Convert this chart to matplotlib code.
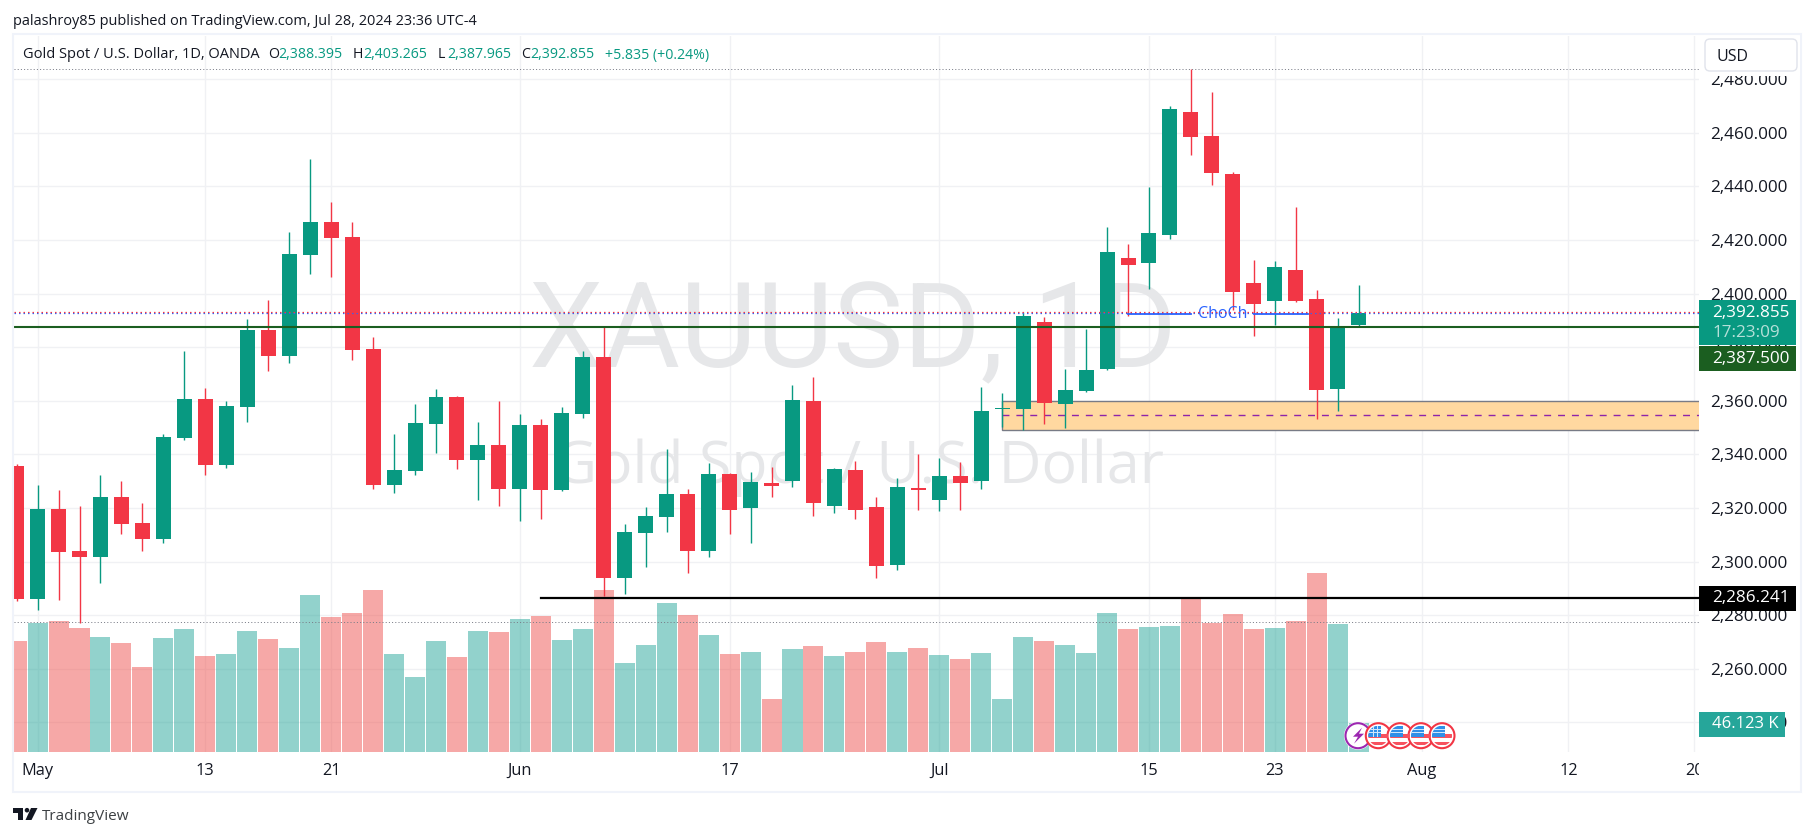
import matplotlib
matplotlib.use('Agg')
import matplotlib.pyplot as plt
from matplotlib.patches import Rectangle, Circle, Polygon, FancyBboxPatch
from matplotlib.transforms import Affine2D, Bbox, IdentityTransform, TransformedBbox

W, H = 1814, 836

# daily bars, Apr 30 -> Jul 29
opens = [2335.7, 2286.0, 2319.6, 2303.9, 2301.7, 2324.1, 2314.4, 2308.4, 2346.1, 2360.7,
         2336.0, 2357.7, 2386.4, 2376.7, 2414.4, 2426.7, 2421.1, 2379.3, 2328.6, 2333.8,
         2351.3, 2361.4, 2337.9, 2343.5, 2327.1, 2351.0, 2326.7, 2355.1, 2376.3, 2293.9,
         2310.6, 2316.6, 2325.2, 2303.9, 2332.7, 2320.0, 2329.3, 2330.1, 2359.9, 2320.7,
         2334.2, 2320.4, 2298.7, 2327.4, 2323.0, 2331.9, 2330.1, 2356.9, 2356.9, 2389.4,
         2358.8, 2363.6, 2371.9, 2413.3, 2411.4, 2421.9, 2467.8, 2458.8, 2444.6, 2404.0,
         2397.2, 2408.8, 2398.0, 2364.4, 2388.395]
highs = [2336.4, 2328.6, 2326.7, 2320.7, 2332.3, 2330.1, 2321.8, 2347.6, 2378.6, 2364.8,
         2359.9, 2390.5, 2397.6, 2423.0, 2450.2, 2434.2, 2426.7, 2383.8, 2347.6, 2358.8,
         2364.4, 2361.8, 2352.1, 2359.9, 2355.1, 2353.2, 2357.7, 2378.6, 2387.9, 2314.0,
         2320.4, 2342.0, 2327.1, 2336.8, 2333.0, 2333.4, 2335.3, 2365.9, 2368.9, 2334.9,
         2337.5, 2324.1, 2331.2, 2340.1, 2338.6, 2337.2, 2365.1, 2362.9, 2393.1, 2391.3,
         2371.9, 2386.8, 2424.9, 2418.5, 2439.8, 2470.0, 2483.8, 2475.3, 2445.4, 2412.5,
         2412.2, 2432.3, 2401.4, 2390.9, 2403.265]
lows = [2285.3, 2281.9, 2285.6, 2277.1, 2292.0, 2310.3, 2303.9, 2306.9, 2345.4, 2332.3,
        2334.9, 2352.1, 2371.1, 2374.1, 2407.3, 2406.2, 2375.2, 2327.1, 2325.6, 2332.3,
        2340.5, 2334.5, 2323.0, 2320.7, 2315.1, 2315.9, 2326.3, 2353.6, 2287.1, 2287.9,
        2298.0, 2311.0, 2295.7, 2301.7, 2310.3, 2306.9, 2324.1, 2327.8, 2317.0, 2318.1,
        2315.9, 2293.9, 2296.8, 2319.2, 2318.9, 2319.2, 2327.1, 2350.2, 2349.1, 2351.3,
        2349.8, 2363.3, 2371.5, 2391.6, 2401.7, 2420.4, 2451.7, 2440.5, 2393.9, 2384.2,
        2388.3, 2396.9, 2353.2, 2356.2, 2387.965]
closes = [2286.0, 2319.6, 2303.6, 2301.7, 2324.1, 2314.0, 2308.4, 2346.5, 2360.7, 2336.0,
          2358.1, 2386.4, 2376.7, 2414.8, 2426.7, 2420.8, 2379.0, 2328.6, 2334.2, 2351.7,
          2361.4, 2337.9, 2343.5, 2327.1, 2351.0, 2326.7, 2355.4, 2376.3, 2293.9, 2311.0,
          2317.0, 2325.2, 2303.9, 2332.7, 2319.2, 2329.7, 2328.2, 2360.3, 2321.8, 2334.5,
          2319.2, 2298.3, 2327.8, 2326.7, 2331.9, 2329.3, 2356.2, 2357.3, 2391.6, 2359.2,
          2364.0, 2371.5, 2415.5, 2410.7, 2422.6, 2468.9, 2458.5, 2445.0, 2400.6, 2396.1,
          2409.9, 2397.2, 2364.0, 2387.2, 2392.855]
# volume in thousands
volumes = [176.5, 205, 208, 197, 183, 173, 135, 181, 196, 153,
           156, 192, 180, 165, 250, 215, 221, 258, 156, 119,
           176.5, 151, 192, 191, 211, 216, 178, 196, 258, 141.5,
           170, 237, 218, 186, 156, 159, 84, 164, 168.5, 153,
           159, 175, 159, 165, 154, 148, 157, 84, 183, 176.5,
           170, 157, 221, 196, 199, 200, 245, 205, 219, 196,
           197, 208, 285, 204, 46.123]

tick_idx = [1, 9, 15, 24, 34, 44, 54, 60, 67, 74, 80]
tick_names = ['May', '13', '21', 'Jun', '17', 'Jul', '15', '23', 'Aug', '12', '20']
price_ticks = [2240, 2260, 2280, 2300, 2320, 2340, 2360, 2380, 2400, 2420, 2440, 2460, 2480]

level_green = 2387.5
level_black = 2286.241
last_close = 2392.855
session_high = 2483.7
session_low = 2277.4
choch_level = 2392.4
zone_top, zone_mid, zone_bottom = 2359.8, 2354.6, 2349.0

GREEN = '#089981'
RED = '#F23645'
INK = '#131722'
plt.rcParams['font.family'] = ['Open Sans', 'DejaVu Sans']

fig = plt.figure(figsize=(W / 100, H / 100), dpi=100, facecolor='white')
# top-left pixel coordinates for the chart furniture
px = Affine2D().scale(1 / W, -1 / H).translate(0, 1) + fig.transFigure

left, right, top, bottom = 14, 1699, 36, 752
ax = fig.add_axes([left / W, 1 - bottom / H, (right - left) / W, (bottom - top) / H])
ax.set_xlim((left - 16.6) / 20.97, (right - 16.6) / 20.97)
ax.set_ylim(2480 - (bottom - 79.3) / 2.679, 2480 + (79.3 - top) / 2.679)
for s in ax.spines.values():
    s.set_visible(False)
ax.set_axisbelow(True)
ax.grid(color='#f0f1f4', lw=1.0)

ax.yaxis.tick_right()
ax.set_yticks(price_ticks)
ax.set_yticklabels(['{:,.3f}'.format(p) for p in price_ticks], fontsize=12.3, color=INK)
ax.set_xticks(tick_idx)
ax.set_xticklabels(tick_names, fontsize=11.8, color=INK)
ax.tick_params(length=0)
ax.tick_params(axis='y', pad=8.2)
ax.tick_params(axis='x', pad=8)
clip = TransformedBbox(Bbox([[0, 0], [right, H]]), IdentityTransform())
for lab in ax.get_xticklabels():
    lab.set_clip_on(True)
    lab.set_clip_box(clip)

# watermark
ax.text(853, 335, 'XAUUSD, 1D', transform=px, fontsize=85, color='#e6e7e9', ha='center', va='center',
        zorder=0.6, family='Roboto')
ax.text(859, 468, 'Gold Spot / U.S. Dollar', transform=px, fontsize=42.6, color='#e6e7e9', ha='center',
        va='center', zorder=0.6)

# volume pane, scaled on the lower part of the axes
VOL_TOP = 1138.4
for i, v in enumerate(volumes):
    c = '#26a69a' if closes[i] >= opens[i] else '#ef5350'
    ax.bar(i, v / VOL_TOP, width=0.955, color=c, alpha=0.5, lw=0, zorder=1,
           transform=ax.get_xaxis_transform())

# demand zone
ax.add_patch(Rectangle((47, zone_bottom), 40, zone_top - zone_bottom, facecolor='#ffd8a0',
                       edgecolor='#787b86', lw=1.0, zorder=1.5))
ax.plot([47, 82], [zone_mid, zone_mid], color='#8e24aa', lw=1.0, ls=(0, (5, 5)), zorder=1.6)

# candles
for i in range(len(opens)):
    c = GREEN if closes[i] >= opens[i] else RED
    ax.vlines(i, lows[i], highs[i], color=c, lw=1.0, zorder=2)
    ax.bar(i, abs(closes[i] - opens[i]), bottom=min(opens[i], closes[i]), width=0.715,
           color=c, lw=0, zorder=2.1)

# levels
ax.axhline(session_high, color='#787b86', lw=0.72, ls=(0, (1, 2.2)), zorder=2.5)
ax.axhline(session_low, color='#787b86', lw=0.72, ls=(0, (1, 2.2)), zorder=2.5)
ax.axhline(last_close - 0.2, color='#2962ff', lw=0.9, ls=(0, (1.2, 2.4)), zorder=3)
ax.axhline(last_close + 0.2, color=RED, lw=0.9, ls=(0, (1.2, 2.4)), zorder=3.1)
ax.axhline(level_green, color='#1b5e20', lw=1.5, zorder=3)
ax.plot([25, 82], [level_black, level_black], color='black', lw=1.6, zorder=3)

ax.plot([53, 56], [choch_level, choch_level], color='#2962ff', lw=1.3, zorder=3)
ax.plot([59, 61.6], [choch_level, choch_level], color='#2962ff', lw=1.3, zorder=3)
ax.text(57.5, choch_level, 'ChoCh', color='#2962ff', fontsize=11.5, ha='center', va='center', zorder=3)

# frame and header
fig.add_artist(Rectangle((13, 34), 1788, 758, transform=px, fill=False, edgecolor='#f0f3fa', lw=1.5, zorder=1))
fig.add_artist(Rectangle((1700, 36), 100, 40, transform=px, facecolor='white', edgecolor='none', zorder=1))
fig.add_artist(FancyBboxPatch((1707, 41), 88, 28, boxstyle='round,pad=2,rounding_size=5', transform=px,
                              facecolor='white', edgecolor='#e0e3eb', lw=1.0, zorder=1.1))


def label(x, y, s, color=INK, size=10.5, **kw):
    t = fig.text(x, y, s, transform=px, color=color, fontsize=size, va='center', zorder=3, **kw)
    return t


label(13, 21.5, 'palashroy85 published on TradingView.com, Jul 28, 2024 23:36 UTC-4', size=10.45)
label(23, 55, 'Gold Spot / U.S. Dollar, 1D, OANDA', size=10.55)
for x, s in [(268, 'O'), (353, 'H'), (438, 'L'), (521, 'C')]:
    label(x, 55, s, size=10.2)
for x, s in [(278.6, '2,388.395'), (363, '2,403.265'), (447, '2,387.965'), (530, '2,392.855'),
             (605, '+5.835 (+0.24%)')]:
    label(x, 55, s, color=GREEN, size=10.2)
label(1716, 57, 'USD', size=11.5)

# price scale tags
for y0, y1, x1, c in [(300, 345, 1796, GREEN), (346, 371, 1796, '#1b5e20'),
                      (586, 611, 1796, 'black'), (712, 737, 1785, '#26a69a')]:
    fig.add_artist(Rectangle((1699, y0), x1 - 1699, y1 - y0, transform=px, facecolor=c,
                             edgecolor='none', zorder=2))
label(1712, 313, '2,392.855', color='white', size=12.3)
label(1712, 333, '17:23:09', color='#b5e0d9', size=12.3)
label(1712, 359, '2,387.500', color='white', size=12.3)
label(1712, 598.5, '2,286.241', color='white', size=12.3)
label(1712, 724.5, '46.123 K', color='white', size=12)

# event markers on the time line
cy = 735.7
fig.add_artist(Circle((1358, cy), 14, transform=px, facecolor='white', edgecolor='none', zorder=2))
fig.add_artist(Circle((1358, cy), 12.5, transform=px, facecolor='white', edgecolor='#9c27b0', lw=1.5, zorder=2))
fig.add_artist(Polygon([(1362, cy - 8), (1353, cy + 1), (1358, cy + 1), (1354, cy + 8), (1364, cy - 2), (1359, cy - 2)],
                       closed=True, transform=px, facecolor='#9c27b0', edgecolor='none', zorder=2.1))
for cx in [1378.3, 1400, 1421, 1442]:
    fig.add_artist(Circle((cx, cy), 12.5, transform=px, facecolor='white', edgecolor=RED, lw=1.5, zorder=2.2))
    inner = Circle((cx, cy), 10, transform=px)
    for y0, h, x0, w, c in [(cy - 2, 4, cx - 10, 20, '#f7525f'), (cy + 6, 3.5, cx - 10, 20, '#f7525f'),
                            (cy - 10, 11, cx - 10, 13, '#2f8fe8'),
                            (cy - 7, 0.8, cx - 10, 13, '#cfe6fb'), (cy - 3.5, 0.8, cx - 10, 13, '#cfe6fb'),
                            (cy - 10, 11, cx - 5.5, 0.8, '#cfe6fb'), (cy - 10, 11, cx - 1.5, 0.8, '#cfe6fb')]:
        r = Rectangle((x0, y0), w, h, transform=px, facecolor=c, edgecolor='none', zorder=2.3)
        fig.add_artist(r)
        r.set_clip_path(inner)

# footer logo
fig.add_artist(Polygon([(13, 808), (23, 808), (23, 820), (18, 820), (18, 813), (13, 813)], closed=True,
                       transform=px, facecolor=INK, edgecolor='none'))
fig.add_artist(Circle((27, 810.2), 2.3, transform=px, facecolor=INK, edgecolor='none'))
fig.add_artist(Polygon([(37.5, 808), (31.5, 820), (25.5, 820), (31, 808)], closed=True,
                       transform=px, facecolor=INK, edgecolor='none'))
label(41.5, 817, 'TradingView', color='#3c4043', size=11)

fig.savefig('out.png', dpi=100)
